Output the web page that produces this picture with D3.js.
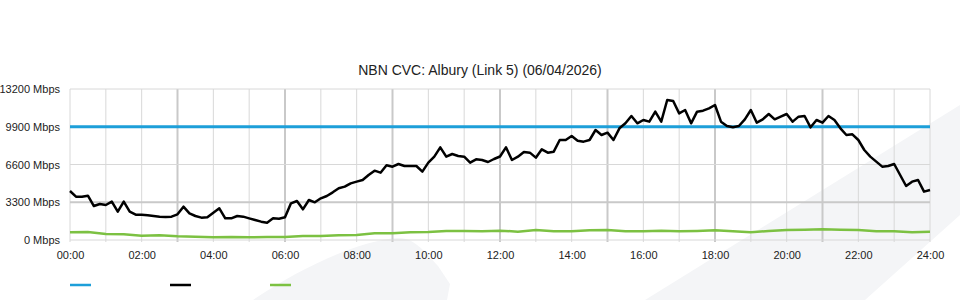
<!DOCTYPE html>
<html>
<head>
<meta charset="utf-8">
<script src="https://cdn.jsdelivr.net/npm/d3@7"></script>
<style>
  body { margin: 0; background: #fff; }
  text { font-family: "Liberation Sans", Arial, sans-serif; fill: #222; }
</style>
</head>
<body>
<div id="chart"></div>
<script>
// link capacity (flat line), Mbps
var capacityMbps = 9900;

// black series, one value every 10 minutes from 00:00 to 24:00
var downMbps = [
    4284, 3788, 3788, 3876, 2972, 3147, 3060, 3351, 2477, 3351, 2477, 2215,
    2215, 2156, 2098, 2040, 2011, 2040, 2244, 2914, 2331, 2098, 1952, 1981,
    2389, 2768, 1894, 1894, 2098, 2040, 1894, 1748, 1603, 1515, 1894, 1865,
    1981, 3205, 3409, 2681, 3497, 3293, 3643, 3846, 4167, 4517, 4662, 4954,
    5100, 5245, 5682, 6061, 5886, 6527, 6411, 6644, 6469, 6469, 6469, 5974,
    6760, 7285, 8101, 7285, 7518, 7343, 7285, 6760, 7052, 6994, 6819, 7081,
    7300, 8101, 6994, 7285, 7693, 7635, 7198, 7926, 7635, 7722, 8742, 8742,
    9092, 8684, 8596, 8742, 9616, 9179, 9383, 8742, 9762, 10199, 10840, 10199,
    10490, 10345, 11219, 10345, 12239, 12151, 11073, 11365, 10199, 11219, 11306, 11510,
    11802, 10345, 9966, 9849, 9966, 10549, 11365, 10257, 10549, 11015, 10549, 10782,
    11015, 10345, 10782, 10840, 9849, 10490, 10257, 10840, 10490, 9762, 9179, 9237,
    8742, 7868, 7285, 6848, 6411, 6469, 6644, 5682, 4721, 5100, 5245, 4225,
    4371
];

// green series, one value every 30 minutes
var upMbps = [
    670, 700, 525, 495, 380, 408, 330, 291, 233, 262, 233, 262,
    262, 350, 350, 408, 437, 583, 583, 670, 700, 787, 787, 758,
    816, 728, 874, 758, 758, 845, 874, 758, 758, 816, 758, 787,
    845, 758, 670, 787, 874, 903, 932, 903, 874, 758, 758, 670,
    728
];

var yTicks = [0, 3300, 6600, 9900, 13200];
var title = "NBN CVC: Albury (Link 5) (06/04/2026)";

var width = 960, height = 300;
var margin = {left: 70, right: 30, top: 89, bottom: 60};

var svg = d3.select("#chart").append("svg")
    .attr("width", width).attr("height", height);

// faint watermark shapes behind everything
var wm = svg.append("g").attr("fill", "#f4f5f7");
wm.append("path").attr("d", "M645,300 L960,105 L960,215 L865,300 Z");
wm.append("path").attr("d", "M253,300 C300,268 360,240 398,238 C412,238 420,246 438,266 L450,284 L447,300 Z");

var x = d3.scaleLinear().domain([0, 24]).range([margin.left, width - margin.right]);
var y = d3.scaleLinear().domain([0, 13200]).range([height - margin.bottom, margin.top]);

function isMajor(h) { return h % 3 === 0 && h > 0 && h < 24; }

// vertical grid, every hour, heavier every 3 hours
var hours = d3.range(0, 25);
svg.append("g").selectAll("line").data(hours).enter()
    .append("line")
    .attr("x1", d => x(d)).attr("x2", d => x(d))
    .attr("y1", y(13200)).attr("y2", y(0) + 2)
    .attr("stroke", d => isMajor(d) ? "#c9c9c9" : "#d8d8d8")
    .attr("stroke-width", d => isMajor(d) ? 2 : 1);

// horizontal grid
svg.append("g").selectAll("line").data(yTicks).enter()
    .append("line")
    .attr("x1", x(0)).attr("x2", x(24))
    .attr("y1", d => y(d)).attr("y2", d => y(d))
    .attr("stroke", d => d === 3300 ? "#c9c9c9" : "#d8d8d8")
    .attr("stroke-width", d => d === 3300 ? 2 : 1);

// axes labels
var yAxis = d3.axisLeft(y).tickValues(yTicks).tickSize(0).tickPadding(10)
    .tickFormat(d => d + " Mbps");
svg.append("g").attr("transform", "translate(" + margin.left + ",0)").call(yAxis)
    .call(g => g.select(".domain").remove())
    .selectAll("text").attr("font-size", 11).style("font-family", null);

var xAxis = d3.axisBottom(x).tickValues(d3.range(0, 25, 2)).tickSize(0).tickPadding(11)
    .tickFormat(d => (d < 10 ? "0" : "") + d + ":00");
svg.append("g").attr("transform", "translate(0," + y(0) + ")").call(xAxis)
    .call(g => g.select(".domain").remove())
    .selectAll("text").attr("font-size", 11).style("font-family", null);

// title
svg.append("text")
    .attr("x", width / 2).attr("y", 75)
    .attr("text-anchor", "middle")
    .attr("font-size", 14)
    .text(title);

var line = d3.line().x(d => x(d[0])).y(d => y(d[1]));

// capacity
svg.append("path")
    .datum([[0, capacityMbps], [24, capacityMbps]])
    .attr("d", line)
    .attr("fill", "none").attr("stroke", "#1d9fd9").attr("stroke-width", 3);

// green
svg.append("path")
    .datum(upMbps.map((v, i) => [i / 2, v]))
    .attr("d", line)
    .attr("fill", "none").attr("stroke", "#7cc142").attr("stroke-width", 2.5);

// black
svg.append("path")
    .datum(downMbps.map((v, i) => [i / 6, v]))
    .attr("d", line)
    .attr("fill", "none").attr("stroke", "#000").attr("stroke-width", 2.5)
    .attr("stroke-linejoin", "round");

// legend, just the swatches
var legendColors = ["#1d9fd9", "#000", "#7cc142"];
svg.append("g").selectAll("line").data(legendColors).enter()
    .append("line")
    .attr("x1", (d, i) => 70 + i * 100).attr("x2", (d, i) => 91 + i * 100)
    .attr("y1", 285).attr("y2", 285)
    .attr("stroke", d => d).attr("stroke-width", 2.5);
</script>
</body>
</html>
